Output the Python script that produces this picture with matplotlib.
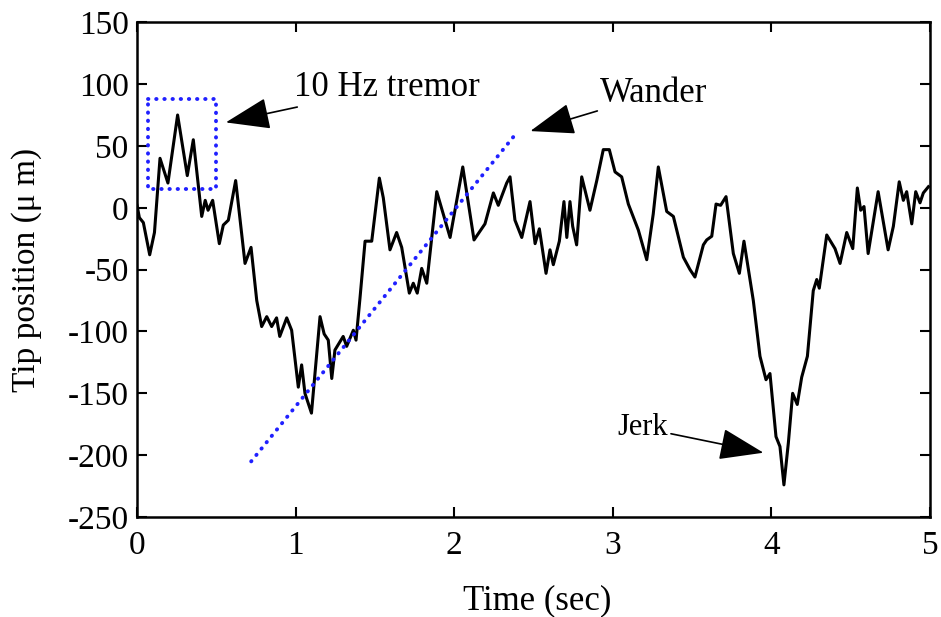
import matplotlib
matplotlib.use("Agg")
import matplotlib.pyplot as plt

# tip trace: time (s), position (um)
t = [0.000, 0.015, 0.040, 0.080, 0.110, 0.145, 0.170, 0.195, 0.256, 0.317,
     0.355, 0.408, 0.430, 0.448, 0.477, 0.519, 0.544, 0.576, 0.622, 0.681,
     0.719, 0.755, 0.786, 0.818, 0.849, 0.880, 0.900, 0.944, 0.975, 1.017,
     1.038, 1.059, 1.100, 1.154, 1.180, 1.206, 1.228, 1.248, 1.300, 1.322,
     1.364, 1.381, 1.406, 1.438, 1.480, 1.528, 1.553, 1.595, 1.637, 1.669,
     1.717, 1.742, 1.767, 1.795, 1.827, 1.890, 1.974, 2.054, 2.125, 2.194,
     2.247, 2.278, 2.331, 2.352, 2.383, 2.426, 2.478, 2.510, 2.537, 2.579,
     2.604, 2.625, 2.663, 2.692, 2.710, 2.730, 2.747, 2.772, 2.804, 2.856,
     2.899, 2.940, 2.978, 3.014, 3.056, 3.098, 3.161, 3.214, 3.255, 3.287,
     3.340, 3.382, 3.445, 3.487, 3.518, 3.571, 3.592, 3.624, 3.651, 3.680,
     3.714, 3.760, 3.798, 3.827, 3.886, 3.928, 3.966, 3.991, 4.029, 4.054,
     4.079, 4.107, 4.134, 4.163, 4.191, 4.227, 4.264, 4.286, 4.302, 4.349,
     4.401, 4.433, 4.475, 4.513, 4.542, 4.563, 4.584, 4.610, 4.673, 4.736,
     4.769, 4.806, 4.832, 4.853, 4.885, 4.910, 4.937, 4.958, 4.990]
pos = [2, -8, -12, -38, -20, 40, 30, 20, 75, 26,
       55, -7, 6, -2, 6, -29, -14, -10, 22, -45,
       -32, -75, -96, -88, -96, -89, -104, -89, -99, -145,
       -127, -150, -166, -88, -102, -107, -138, -115, -104, -112,
       -99, -107, -73, -27, -27, 24, 8, -34, -20, -32,
       -69, -61, -69, -49, -61, 13, -24, 33, -26, -13,
       12, 2, 20, 25, -10, -24, 5, -29, -17, -53,
       -34, -46, -27, 5, -24, 5, -15, -30, 25, -2,
       22, 47, 47, 29, 25, 3, -18, -42, -5, 33,
       -3, -7, -40, -50, -56, -30, -26, -23, 3, 2,
       9, -37, -53, -27, -75, -120, -139, -134, -185, -193,
       -224, -190, -150, -159, -137, -120, -67, -58, -65, -22,
       -33, -45, -20, -33, 16, -2, 1, -37, 13, -34,
       -15, 21, 6, 13, -13, 13, 4, 12, 17]

# tremor box and wander line
box_x = [0.07, 0.50, 0.50, 0.07, 0.07]
box_y = [88, 88, 15, 15, 88]
wander_x = [0.72, 2.39]
wander_y = [-205, 60]

plt.rcParams['font.family'] = ['Liberation Serif', 'DejaVu Serif']
plt.rcParams['axes.unicode_minus'] = False

fig = plt.figure(figsize=(9.41, 6.17), dpi=100)
ax = fig.add_axes([0.1456, 0.162, 0.8427, 0.802])

ax.plot(t, pos, color='black', linewidth=2.2)
dots = dict(color='#2020ff', linestyle=(0, (0.1, 2.0)), linewidth=2.8,
            dash_capstyle='round')
ax.plot(box_x, box_y, **dots)
ax.plot(wander_x, wander_y, **dots)

arrow = dict(arrowstyle='-|>,head_length=1.4,head_width=0.5', color='black',
             linewidth=1.2, mutation_scale=20, shrinkA=0, shrinkB=0)
ax.annotate('10 Hz tremor', xy=(0.56, 69), xytext=(0.99, 97), fontsize=25,
            va='center', ha='left', arrowprops=arrow)
ax.annotate('Wander', xy=(2.48, 62), xytext=(2.92, 92), fontsize=25,
            va='center', ha='left', arrowprops=arrow)
ax.annotate('Jerk', xy=(3.95, -198), xytext=(3.03, -178), fontsize=22,
            va='center', ha='left', arrowprops=arrow)

ax.set_xlim(0, 5)
ax.set_ylim(-250, 150)
ax.set_xticks([0, 1, 2, 3, 4, 5])
ax.set_yticks(range(-250, 151, 50))
ax.tick_params(direction='in', top=True, right=True, length=7, width=1.5,
               labelsize=24)
ax.tick_params(axis='x', pad=10)
ax.tick_params(axis='y', pad=6)
for s in ax.spines.values():
    s.set_linewidth(1.8)

ax.set_xlabel('Time (sec)', fontsize=25)
ax.set_ylabel('Tip position (\u03bc m)', fontsize=24)
ax.xaxis.set_label_coords(0.505, -0.135)
ax.yaxis.set_label_coords(-0.12, 0.5)

fig.savefig('out.png', dpi=100)
